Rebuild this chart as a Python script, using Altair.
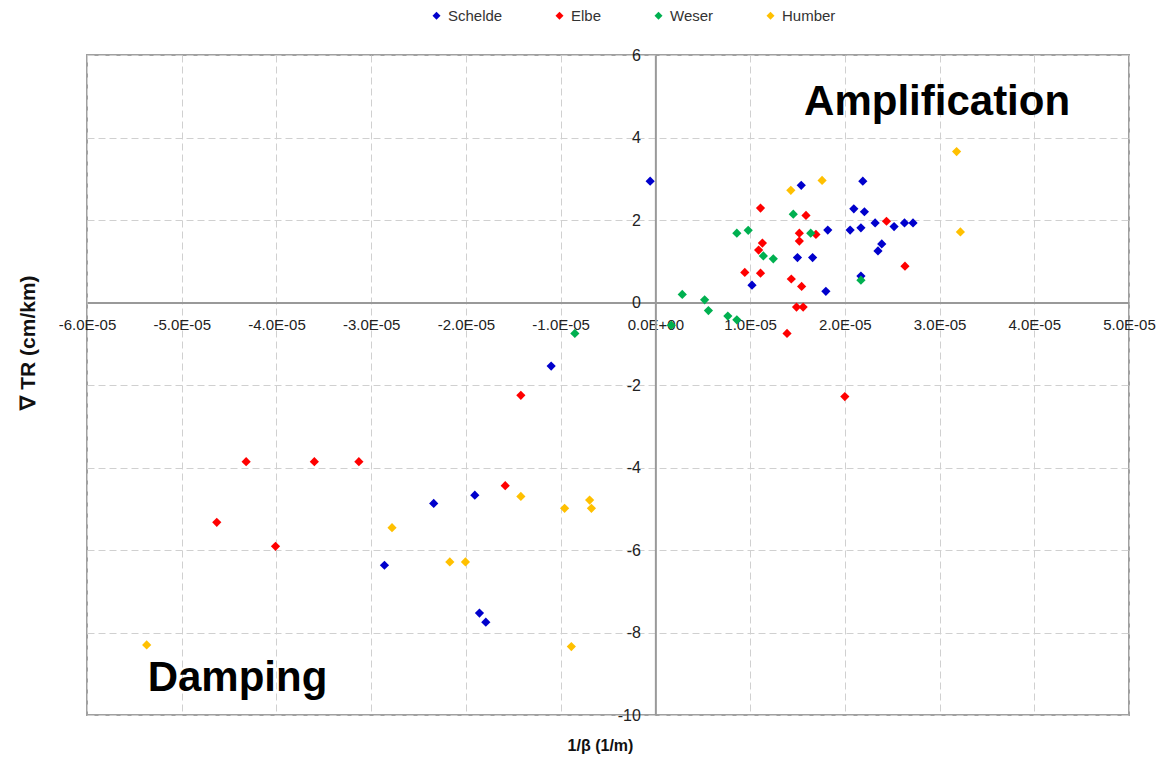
import altair as alt
import pandas as pd

# ---- data (x values in units of 1E-05 1/m) ----
series_names = ["Schelde", "Elbe", "Weser", "Humber"]
series_colors = ["#0000CC", "#FF0000", "#00B050", "#FFC000"]

schelde_x = [-0.055, 1.54, 2.19, 2.095, 2.207, 2.32, 2.52, 2.63, 2.72, 2.17, 2.056, 1.82,
             2.39, 2.35, 1.50, 1.66, 2.17, 1.02, 1.80,
             -1.10, -1.906, -2.34, -2.86, -1.857, -1.79]
schelde_y = [2.94, 2.84, 2.94, 2.27, 2.20, 1.93, 1.84, 1.93, 1.93, 1.81, 1.755, 1.755,
             1.42, 1.25, 1.09, 1.09, 0.64, 0.42, 0.27,
             -1.54, -4.67, -4.87, -6.37, -7.53, -7.75]

elbe_x = [1.11, 1.59, 2.44, 1.52, 1.695, 1.52, 1.13, 1.09, 0.944, 1.11, 2.635, 1.435,
          1.544, 1.49, 1.56, 1.39, 2.00,
          -1.42, -4.32, -3.60, -3.13, -4.63, -4.01, -1.585]
elbe_y = [2.29, 2.11, 1.97, 1.68, 1.65, 1.49, 1.44, 1.27, 0.73, 0.71, 0.88, 0.57,
          0.39, -0.11, -0.11, -0.75, -2.28,
          -2.25, -3.86, -3.86, -3.86, -5.33, -5.91, -4.44]

weser_x = [1.456, 1.64, 0.86, 0.98, 1.14, 1.245, 2.17, 0.284, 0.52, 0.56, 0.765, 0.86,
           0.168, -0.85]
weser_y = [2.14, 1.68, 1.68, 1.75, 1.13, 1.06, 0.54, 0.196, 0.065, -0.196, -0.33, -0.42,
           -0.55, -0.75]

humber_x = [1.43, 1.76, 3.22, 3.18, -1.42, -2.78, -2.17, -2.005, -0.958, -0.694, -0.675,
            -0.887, -5.37]
humber_y = [2.72, 2.96, 1.71, 3.66, -4.70, -5.46, -6.29, -6.29, -4.99, -4.79, -4.99,
            -8.34, -8.30]

x_tick_values = [round(i * 1e-5, 10) for i in range(-6, 6)]
y_tick_values = list(range(-10, 7, 2))

annot_text = ["Amplification", "Damping"]
annot_x = [1.57, -5.36]
annot_y = [4.54, -9.42]

# ---- tables ----
rows = []
for name, xs, ys in zip(series_names, [schelde_x, elbe_x, weser_x, humber_x],
                        [schelde_y, elbe_y, weser_y, humber_y]):
    for xv, yv in zip(xs, ys):
        rows.append({"series": name, "x": xv * 1e-5, "y": yv})
df = pd.DataFrame(rows)
ann = pd.DataFrame({"label": annot_text, "x": [v * 1e-5 for v in annot_x], "y": annot_y})

W, H = 1042, 660
FONT = "Liberation Sans"
xdom = [-6e-5, 5e-5]
ydom = [-10, 6]

x_axis = alt.Axis(
    values=x_tick_values,
    offset=-H * 10 / 16,
    labelExpr="abs(datum.value) < 1e-12 ? '0.0E+00' : (datum.value < 0 ? '-' : '') + format(abs(datum.value) * 100000, '.1f') + 'E-05'",
    title="1/β (1/m)",
    titleX=513, titleY=443, titleAnchor="middle", titleBaseline="middle",
    grid=True, gridDash=[7, 4], gridColor="#D0D0D0", gridWidth=1,
    domainColor="#999999", domainWidth=2,
    ticks=False, labelPadding=15, labelFontSize=15, labelColor="#222222",
    labelFont=FONT, titleFont=FONT, titleFontSize=16, titleFontWeight="bold",
    titleColor="#111111", labelFlush=False, labelOverlap=False,
)
y_axis = alt.Axis(
    values=y_tick_values,
    offset=-W * 6 / 11,
    labelExpr="(datum.value < 0 ? '-' : '') + format(abs(datum.value), 'd')",
    title="∇ TR (cm/km)",
    titleX=-627, titleY=287, titleAngle=-90, titleAnchor="middle", titleBaseline="middle",
    grid=True, gridDash=[7, 4], gridColor="#D0D0D0", gridWidth=1,
    domainColor="#999999", domainWidth=2,
    ticks=False, labelPadding=15, labelFontSize=16, labelColor="#222222",
    labelFont=FONT, titleFont=FONT, titleFontSize=21, titleFontWeight="bold",
    titleColor="#111111", labelFlush=False, labelOverlap=False,
)

points = alt.Chart(df).mark_point(shape="diamond", filled=True, size=85, opacity=1).encode(
    x=alt.X("x:Q", scale=alt.Scale(domain=xdom, nice=False, zero=False), axis=x_axis),
    y=alt.Y("y:Q", scale=alt.Scale(domain=ydom, nice=False, zero=False), axis=y_axis),
    color=alt.Color(
        "series:N",
        scale=alt.Scale(domain=series_names, range=series_colors),
        legend=alt.Legend(
            orient="none", legendX=342, legendY=-47, direction="horizontal", title=None,
            symbolType="diamond", symbolSize=64, labelFontSize=15, labelFont=FONT,
            labelColor="#333333", columnPadding=49, labelOffset=4,
        ),
    ),
)

labels = alt.Chart(ann).mark_text(
    align="left", baseline="alphabetic", fontSize=42, fontWeight="bold", font=FONT, color="#000000"
).encode(
    x=alt.X("x:Q"),
    y=alt.Y("y:Q"),
    text="label:N",
)

chart = alt.layer(points, labels).properties(
    width=W, height=H,
    autosize=alt.AutoSizeParams(type="none"),
    padding={"left": 79, "top": 47, "right": 30, "bottom": 43},
).configure_view(stroke="#A0A0A0", strokeWidth=2)

chart.save("out.html", embed_options={"renderer": "svg", "actions": False})
